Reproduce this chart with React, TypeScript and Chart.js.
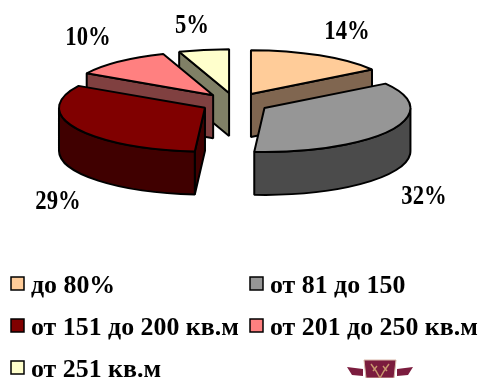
import React, { useEffect, useRef } from "react";
import { Chart, registerables } from "chart.js";

Chart.register(...registerables);

const categories = ["до 80%", "от 81 до 150", "от 151 до 200 кв.м", "от 201 до 250 кв.м", "от 251 кв.м"];
const shares = [14, 32, 29, 10, 5];
const topColors = ["#FFCC99", "#969696", "#800000", "#FF8080", "#FFFFCC"];
const wallColors = ["#806650", "#4B4B4B", "#400000", "#804040", "#808066"];

// Pixel layout of the tilted pie and its surroundings.
const TILT = 0.3;
const DEPTH = 43;
const EXPLODE = 34;
const VALUE_LABEL_POS = [
  [347, 39],
  [424, 204],
  [58, 209],
  [88, 45],
  [192, 33],
];
const LEGEND_CELLS = [
  [10, 284],
  [249, 284],
  [10, 326],
  [249, 326],
  [10, 368],
];
const SERIF = "'Liberation Serif', serif";

const drawEmblem = (ctx: CanvasRenderingContext2D) => {
  ctx.save();
  ctx.fillStyle = "#7B1C3E";
  ctx.beginPath();
  ctx.moveTo(347, 367);
  ctx.lineTo(363, 369);
  ctx.lineTo(363, 376);
  ctx.lineTo(352, 375);
  ctx.closePath();
  ctx.moveTo(413, 367);
  ctx.lineTo(397, 369);
  ctx.lineTo(397, 376);
  ctx.lineTo(408, 375);
  ctx.closePath();
  ctx.fill();
  ctx.beginPath();
  ctx.moveTo(364, 360);
  ctx.lineTo(396, 360);
  ctx.lineTo(394, 378);
  ctx.lineTo(366, 378);
  ctx.closePath();
  ctx.fill();
  ctx.strokeStyle = "#D9B7A8";
  ctx.lineWidth = 1;
  ctx.stroke();
  ctx.strokeStyle = "#C9996F";
  ctx.lineWidth = 1.4;
  ctx.beginPath();
  ctx.moveTo(371, 364);
  ctx.lineTo(376, 371);
  ctx.lineTo(380, 378);
  ctx.lineTo(384, 371);
  ctx.lineTo(389, 364);
  ctx.moveTo(373, 371);
  ctx.lineTo(377, 366);
  ctx.moveTo(387, 371);
  ctx.lineTo(383, 366);
  ctx.stroke();
  ctx.restore();
};

// Draws the arcs computed by the doughnut controller as extruded, exploded wedges.
const tiltedPie = {
  id: "tiltedPie",
  beforeDatasetDraw(chart: Chart) {
    const ctx = chart.ctx;
    const arcs = chart.getDatasetMeta(0).data as any[];
    const wedges = arcs.map((arc, index) => {
      const a = arc.startAngle;
      const b = arc.endAngle;
      const mid = (a + b) / 2;
      return {
        index,
        a,
        b,
        rx: arc.outerRadius,
        ry: arc.outerRadius * TILT,
        x: arc.x + Math.cos(mid) * EXPLODE,
        y: arc.y + Math.sin(mid) * EXPLODE * TILT,
      };
    });
    // Painter's order: wedges whose apex sits higher on the page are further back.
    wedges.sort((p, q) => p.y - q.y);

    ctx.save();
    ctx.strokeStyle = "#000";
    ctx.lineWidth = 2;
    ctx.lineJoin = "bevel";
    const paint = (fill: string) => {
      ctx.closePath();
      ctx.fillStyle = fill;
      ctx.fill();
      ctx.stroke();
    };

    for (const w of wedges) {
      const wall = wallColors[w.index];
      const rim = (t: number) => [w.x + Math.cos(t) * w.rx, w.y + Math.sin(t) * w.ry];

      // Radial cut faces that turn towards the viewer.
      const cuts = [
        Math.cos(w.a) < -1e-6 ? w.a : null,
        Math.cos(w.b) > 1e-6 ? w.b : null,
      ];
      for (const t of cuts) {
        if (t === null) continue;
        const [rimX, rimY] = rim(t);
        ctx.beginPath();
        ctx.moveTo(w.x, w.y);
        ctx.lineTo(rimX, rimY);
        ctx.lineTo(rimX, rimY + DEPTH);
        ctx.lineTo(w.x, w.y + DEPTH);
        paint(wall);
      }

      // Outer wall along the front half of the rim.
      const norm = (t: number) => {
        let v = t;
        while (v < -Math.PI / 2) v += Math.PI * 2;
        return v;
      };
      const from = Math.max(norm(w.a), 0);
      const to = Math.min(norm(w.a) + (w.b - w.a), Math.PI);
      if (to > from) {
        ctx.beginPath();
        ctx.ellipse(w.x, w.y, w.rx, w.ry, 0, from, to);
        ctx.ellipse(w.x, w.y + DEPTH, w.rx, w.ry, 0, to, from, true);
        paint(wall);
      }

      // Top face.
      ctx.beginPath();
      ctx.moveTo(w.x, w.y);
      ctx.ellipse(w.x, w.y, w.rx, w.ry, 0, w.a, w.b);
      paint(topColors[w.index]);
    }
    ctx.restore();
    return false;
  },
  afterDraw(chart: Chart) {
    const ctx = chart.ctx;
    const labels = chart.data.labels as string[];
    const values = chart.data.datasets[0].data as number[];

    ctx.save();
    ctx.fillStyle = "#000";
    ctx.textBaseline = "alphabetic";

    ctx.font = `bold 27px ${SERIF}`;
    ctx.textAlign = "center";
    values.forEach((value, i) => {
      const [x, y] = VALUE_LABEL_POS[i];
      ctx.save();
      ctx.translate(x, y);
      ctx.scale(0.84, 1);
      ctx.fillText(`${value}%`, 0, 0);
      ctx.restore();
    });

    ctx.font = `bold 25px ${SERIF}`;
    ctx.textAlign = "left";
    labels.forEach((label, i) => {
      const [x, y] = LEGEND_CELLS[i];
      ctx.fillStyle = topColors[i];
      ctx.strokeStyle = "#000";
      ctx.lineWidth = 1.5;
      ctx.fillRect(x + 1, y - 7, 13, 13);
      ctx.strokeRect(x + 1, y - 7, 13, 13);
      ctx.fillStyle = "#000";
      ctx.save();
      ctx.translate(x + 21, y + 9);
      ctx.scale(1.035, 1);
      ctx.fillText(label, 0, 0);
      ctx.restore();
    });
    ctx.restore();

    drawEmblem(ctx);
  },
};

export default function App() {
  const canvasRef = useRef<HTMLCanvasElement | null>(null);

  useEffect(() => {
    const chart = new Chart(canvasRef.current!, {
      type: "pie",
      data: {
        labels: categories,
        datasets: [{ data: shares, backgroundColor: topColors, borderColor: "#000", borderWidth: 1.5 }],
      },
      options: {
        animation: false,
        responsive: false,
        events: [],
        radius: 146,
        layout: { padding: { right: 10, bottom: 172 } },
        plugins: { legend: { display: false }, tooltip: { enabled: false } },
      } as any,
      plugins: [tiltedPie as any],
    });
    return () => chart.destroy();
  }, []);

  return (
    <div style={{ position: "fixed", left: 0, top: 0, width: 480, height: 378, background: "#fff", overflow: "hidden" }}>
      <canvas ref={canvasRef} width={480} height={378} style={{ display: "block" }} />
    </div>
  );
}
